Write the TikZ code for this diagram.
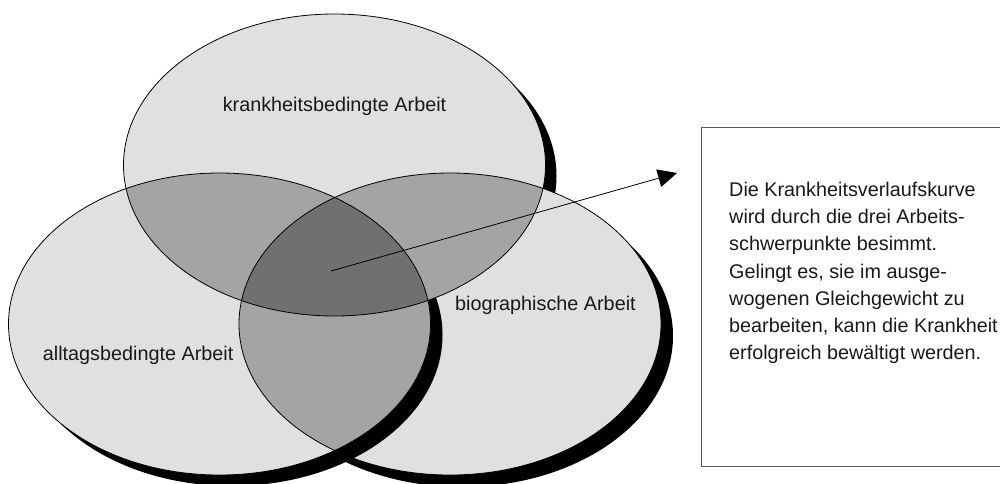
\documentclass[tikz,border=0pt]{standalone}
\usepackage{fontspec}
\setmainfont{Liberation Sans}
\usetikzlibrary{arrows.meta}
\definecolor{lightg}{RGB}{224,224,224}
\definecolor{midg}{RGB}{164,164,164}
\definecolor{darkg}{RGB}{112,112,112}
\definecolor{boxline}{RGB}{90,90,90}
\begin{document}
\begin{tikzpicture}[x=1pt,y=-1pt,
  er/.style={x radius=211, y radius=151},
  shadowfill/.style={fill=black},
  lbl/.style={inner sep=0pt, font=\fontsize{19.8}{27.1}\selectfont, text=black!90},
  outline/.style={draw=black, line width=0.8pt}]
\useasboundingbox (0,0) rectangle (1000,483);
% centres of the three ellipses
\coordinate (ct) at (334.5,165);
\coordinate (cl) at (219.5,324);
\coordinate (cr) at (450,324);
% shadows and base fills
\fill[shadowfill] ([shift={(11,11)}]ct) ellipse [er];
\fill[shadowfill] ([shift={(12,12)}]cr) ellipse [er];
\fill[lightg] (cr) ellipse [er];
\fill[shadowfill] ([shift={(12,11)}]cl) ellipse [er];
\fill[lightg] (cl) ellipse [er];
\fill[lightg] (ct) ellipse [er];
% pairwise overlaps
\begin{scope}
  \clip (ct) ellipse [er];
  \fill[midg] (cl) ellipse [er];
  \fill[midg] (cr) ellipse [er];
\end{scope}
\begin{scope}
  \clip (cl) ellipse [er];
  \fill[midg] (cr) ellipse [er];
\end{scope}
% triple overlap
\begin{scope}
  \clip (ct) ellipse [er];
  \clip (cl) ellipse [er];
  \fill[darkg] (cr) ellipse [er];
\end{scope}
% outlines
\draw[outline] (ct) ellipse [er];
\draw[outline] (cl) ellipse [er];
\draw[outline] (cr) ellipse [er];
% labels
\node[lbl, anchor=base] (lt) at (334.5,111) {krankheitsbedingte Arbeit};
\node[lbl, anchor=base west] (ll) at (42.7,360.7) {alltagsbedingte Arbeit};
\node[lbl, anchor=base west] (lr) at (455,310) {biographische Arbeit};
% arrow
\coordinate (as) at (331,271);
\coordinate (at) at (677,173);
\draw[line width=0.8pt, -{Triangle[length=19pt,width=18pt]}] (as) -- (at);
% text box
\coordinate (b1) at (701,127);
\coordinate (b2) at (1008,466);
\draw[boxline, line width=1pt] (b1) rectangle (b2);
\foreach [count=\i] \t in {Die Krankheitsverlaufskurve, wird durch die drei Arbeits-, schwerpunkte besimmt., {Gelingt es, sie im ausge-}, wogenen Gleichgewicht zu, {bearbeiten, kann die Krankheit}, erfolgreich bewältigt werden.}
  \node[lbl, anchor=base west] (t\i) at (729,{196.7+27.1*(\i-1)}) {\t};
\end{tikzpicture}
\end{document}
